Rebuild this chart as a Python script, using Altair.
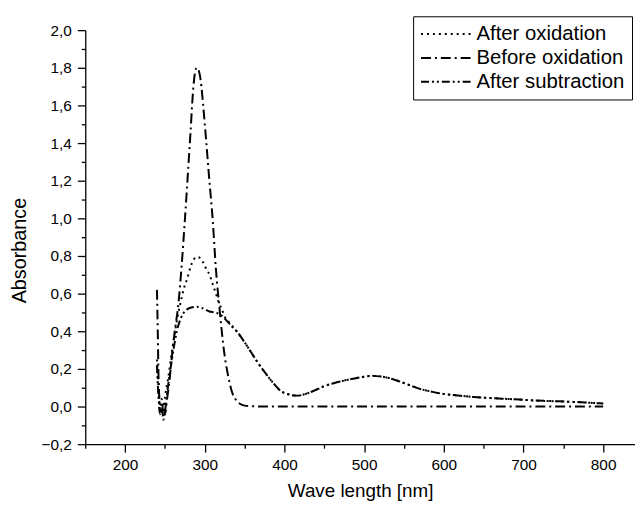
import altair as alt
import pandas as pd

# ---- data ----
series_names = ["After oxidation", "Before oxidation", "After subtraction"]

wl_after_ox = [240, 241, 242, 243, 244, 246, 248, 250, 254, 258, 262, 266, 270, 274, 278,
               282, 286, 290, 294, 298, 302, 306, 310, 314, 318, 322, 326, 330, 341, 354,
               366, 375, 385, 395, 405, 416, 426, 437, 450, 465, 478, 495, 511, 525, 540,
               555, 569, 585, 598, 615, 631, 650, 673, 695, 714, 735, 755, 780, 800]
ab_after_ox = [0.25, 0.18, 0.10, 0.03, -0.03, 0.04, -0.02, 0.05, 0.15, 0.27, 0.38, 0.48, 0.56, 0.63, 0.68,
               0.74, 0.78, 0.795, 0.79, 0.765, 0.73, 0.70, 0.65, 0.60, 0.55, 0.51, 0.47, 0.45, 0.395, 0.316,
               0.237, 0.184, 0.13, 0.084, 0.065, 0.058, 0.066, 0.084, 0.108, 0.128, 0.141, 0.155, 0.163, 0.157, 0.140,
               0.117, 0.095, 0.079, 0.068, 0.060, 0.053, 0.047, 0.042, 0.037, 0.032, 0.029, 0.026, 0.021, 0.016]

wl_before_ox = [240, 241, 242, 244, 246, 248, 250, 253, 256, 260, 263, 267, 271, 275, 279,
                282, 285, 288, 290, 292, 295, 298, 302, 305, 310, 314, 319, 324, 329, 334,
                339, 344, 350, 360, 380, 450, 550, 650, 800]
ab_before_ox = [0.62, 0.40, 0.15, 0.0, -0.03, 0.02, -0.04, 0.05, 0.15, 0.32, 0.42, 0.55, 0.75, 0.99, 1.25,
                1.45, 1.66, 1.78, 1.80, 1.79, 1.73, 1.60, 1.40, 1.24, 0.99, 0.73, 0.50, 0.30, 0.17, 0.08,
                0.036, 0.015, 0.005, 0.002, 0.0, 0.0, 0.0, 0.0, 0.0]

wl_after_sub = [240, 241, 242, 244, 246, 248, 250, 253, 257, 261, 265, 270, 276, 283, 290,
                295, 301, 306, 312, 319, 326, 333, 341, 354, 366, 375, 385, 395, 405, 416,
                426, 437, 450, 465, 478, 495, 511, 525, 540, 555, 569, 585, 598, 615, 631,
                650, 673, 695, 714, 735, 755, 780, 800]
ab_after_sub = [0.22, 0.12, 0.04, -0.04, 0.01, -0.07, -0.03, 0.08, 0.20, 0.31, 0.40, 0.47, 0.51, 0.526, 0.53,
                0.526, 0.515, 0.505, 0.50, 0.49, 0.463, 0.43, 0.395, 0.316, 0.237, 0.184, 0.13, 0.084, 0.065, 0.058,
                0.066, 0.084, 0.108, 0.128, 0.141, 0.155, 0.163, 0.157, 0.140, 0.117, 0.095, 0.079, 0.068, 0.060, 0.053,
                0.047, 0.042, 0.037, 0.032, 0.029, 0.026, 0.021, 0.016]

x_ticks = [150, 200, 250, 300, 350, 400, 450, 500, 550, 600, 650, 700, 750, 800]
y_ticks = [-0.2, -0.1, 0.0, 0.1, 0.2, 0.3, 0.4, 0.5, 0.6, 0.7, 0.8, 0.9, 1.0,
           1.1, 1.2, 1.3, 1.4, 1.5, 1.6, 1.7, 1.8, 1.9, 2.0]

rows = []
for name, wl, ab in [(series_names[0], wl_after_ox, ab_after_ox),
                     (series_names[1], wl_before_ox, ab_before_ox),
                     (series_names[2], wl_after_sub, ab_after_sub)]:
    for w, a in zip(wl, ab):
        rows.append({"series": name, "wl": w, "ab": a})
df = pd.DataFrame(rows)

FONT = "Liberation Sans"

x_axis = alt.Axis(
    values=x_ticks,
    title="Wave length [nm]",
    grid=False,
    labelExpr="datum.value % 100 === 0 ? format(datum.value, 'd') : ''",
    tickSize={"condition": {"test": "datum.value % 100 === 0", "value": 8}, "value": 4},
    tickColor="black", tickWidth=1.3, domainColor="black", domainWidth=1.3,
    labelFont=FONT, labelFontSize=15.5, labelColor="black", labelPadding=6,
    titleFont=FONT, titleFontSize=19, titleFontWeight="normal", titleColor="black",
    titlePadding=8, labelFlush=False, labelOverlap=False,
)
y_axis = alt.Axis(
    values=y_ticks,
    title="Absorbance",
    grid=False,
    labelExpr="round(datum.value * 10) % 2 === 0 ? replace(format(datum.value, '.1f'), '.', ',') : ''",
    tickSize={"condition": {"test": "round(datum.value * 10) % 2 === 0", "value": 8}, "value": 4},
    tickColor="black", tickWidth=1.3, domainColor="black", domainWidth=1.3,
    labelFont=FONT, labelFontSize=15.5, labelColor="black", labelPadding=6,
    titleFont=FONT, titleFontSize=20, titleFontWeight="normal", titleColor="black",
    titlePadding=12, titleY=222, labelFlush=False, labelOverlap=False,
)

chart = alt.Chart(df).mark_line(color="black", strokeWidth=2, interpolate="monotone").encode(
    x=alt.X("wl:Q", scale=alt.Scale(domain=[150, 840], nice=False, zero=False), axis=x_axis),
    y=alt.Y("ab:Q", scale=alt.Scale(domain=[-0.2, 2.0], nice=False, zero=False), axis=y_axis),
    strokeDash=alt.StrokeDash(
        "series:N",
        sort=series_names,
        scale=alt.Scale(domain=series_names,
                        range=[[2, 4], [10, 4, 2, 4], [8, 3, 2, 3, 2, 3]]),
        legend=alt.Legend(
            title=None, orient="none", legendX=331, legendY=-14,
            symbolType="stroke", symbolSize=2500, symbolStrokeWidth=2,
            symbolStrokeColor="black", clipHeight=22,
            labelFont=FONT, labelFontSize=20.5, labelColor="black", labelOffset=5,
            strokeColor="black", padding=7, fillColor="white",
        ),
    ),
    detail="series:N",
).properties(
    width=555, height=418,
    autosize=alt.AutoSizeParams(type="none"),
    padding={"left": 78, "top": 20, "right": 0, "bottom": 56},
    background="white",
).configure_view(stroke=None)

chart.save("out.html", embed_options={"renderer": "svg", "actions": False})
